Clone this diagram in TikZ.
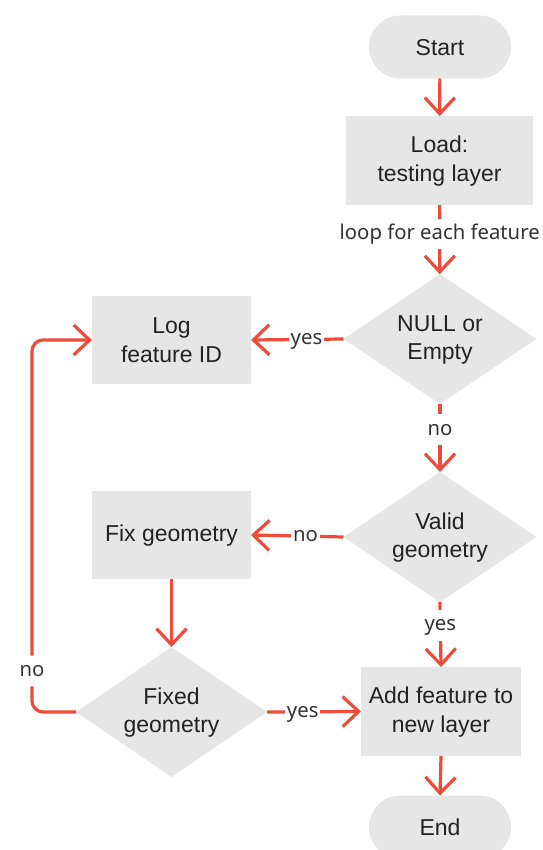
\documentclass[tikz,border=0pt]{standalone}
\usepackage{fontspec}
\setmainfont{Liberation Sans}
\newfontfamily\lblfont{Noto Sans}
\usetikzlibrary{shapes.geometric,arrows.meta}

\definecolor{flowred}{HTML}{EE4B3B}
\definecolor{shapegray}{HTML}{E6E6E6}
\definecolor{inktext}{HTML}{222222}
\definecolor{lbltext}{HTML}{333333}

% a strut that keeps the caps of every line optically centred
\newcommand\capstrut{\rule[-1.1pt]{0pt}{18.6pt}}

\tikzset{
  base/.style={fill=shapegray, draw=none, text=inktext, align=center,
    font=\fontsize{23}{28.5}\selectfont, inner sep=0pt, outer sep=0pt},
  pill/.style={base, rectangle, rounded corners=31.5pt,
    minimum width=142pt, minimum height=63pt},
  procbox/.style={base, rectangle, minimum width=159pt, minimum height=88pt},
  decision/.style={base, diamond, aspect=1.5,
    minimum width=193pt, minimum height=130pt},
  conn/.style={draw=flowred, line width=3.2pt,
    -{Straight Barb[length=16pt, width=30pt, line width=3.2pt]}},
  lbl/.style={fill=white, text=lbltext, font=\lblfont\fontsize{20.3}{24}\selectfont,
    inner xsep=2pt, inner ysep=6pt, text height=14.8pt, text depth=4pt}
}

\begin{document}
\begin{tikzpicture}[x=1pt, y=-1pt]
  \useasboundingbox (0,0) rectangle (542,850);
  \clip (0,0) rectangle (542,850);

  % shapes
  \node[pill] (start) at (440,47) {\capstrut Start};
  \node[procbox, minimum width=187pt, minimum height=89pt] (load) at (439.5,160.5)
    {\capstrut Load:\\\capstrut testing layer};
  \node[decision] (null) at (440,339) {\capstrut NULL or\\\capstrut Empty};
  \node[procbox] (log) at (171.5,340) {\capstrut Log\\\capstrut feature ID};
  \node[decision] (valid) at (440,537) {\capstrut Valid\\\capstrut geometry};
  \node[procbox] (fix) at (171.5,535) {\capstrut Fix geometry};
  \node[decision, minimum width=191pt] (fixed) at (171.5,712)
    {\capstrut Fixed\\\capstrut geometry};
  \node[procbox, minimum width=160pt, minimum height=89pt] (add) at (441,711.5)
    {\capstrut Add feature to\\\capstrut new layer};
  \node[pill] (end) at (440,827) {\capstrut End};

  % corners of the retry loop
  \coordinate (loopA) at (32,712);
  \coordinate (loopB) at (32,340);

  % connectors
  \draw[conn] (start) -- (load);
  \draw[conn] (load) -- node[lbl, pos=0.42] {loop for each feature} (null);
  \draw[conn] (null.west) -- node[lbl, pos=0.40] {yes} (log.east);
  \draw[conn] (null.south) -- node[lbl, pos=0.38] {no} (valid.north);
  \draw[conn] (valid.west) -- node[lbl, pos=0.41] {no} (fix.east);
  \draw[conn] (valid.south) -- node[lbl, pos=0.36] {yes} (add.north);
  \draw[conn] (fix.south) -- (fixed.north);
  \draw[conn] (fixed.east) -- node[lbl, pos=0.38] {yes} (add.west);
  \draw[conn] (add.south) -- (end.north);
  \draw[conn, rounded corners=11pt] (fixed.west) -- (loopA)
    -- node[lbl, pos=0.11] {no} (loopB) -- (log.west);
\end{tikzpicture}
\end{document}
